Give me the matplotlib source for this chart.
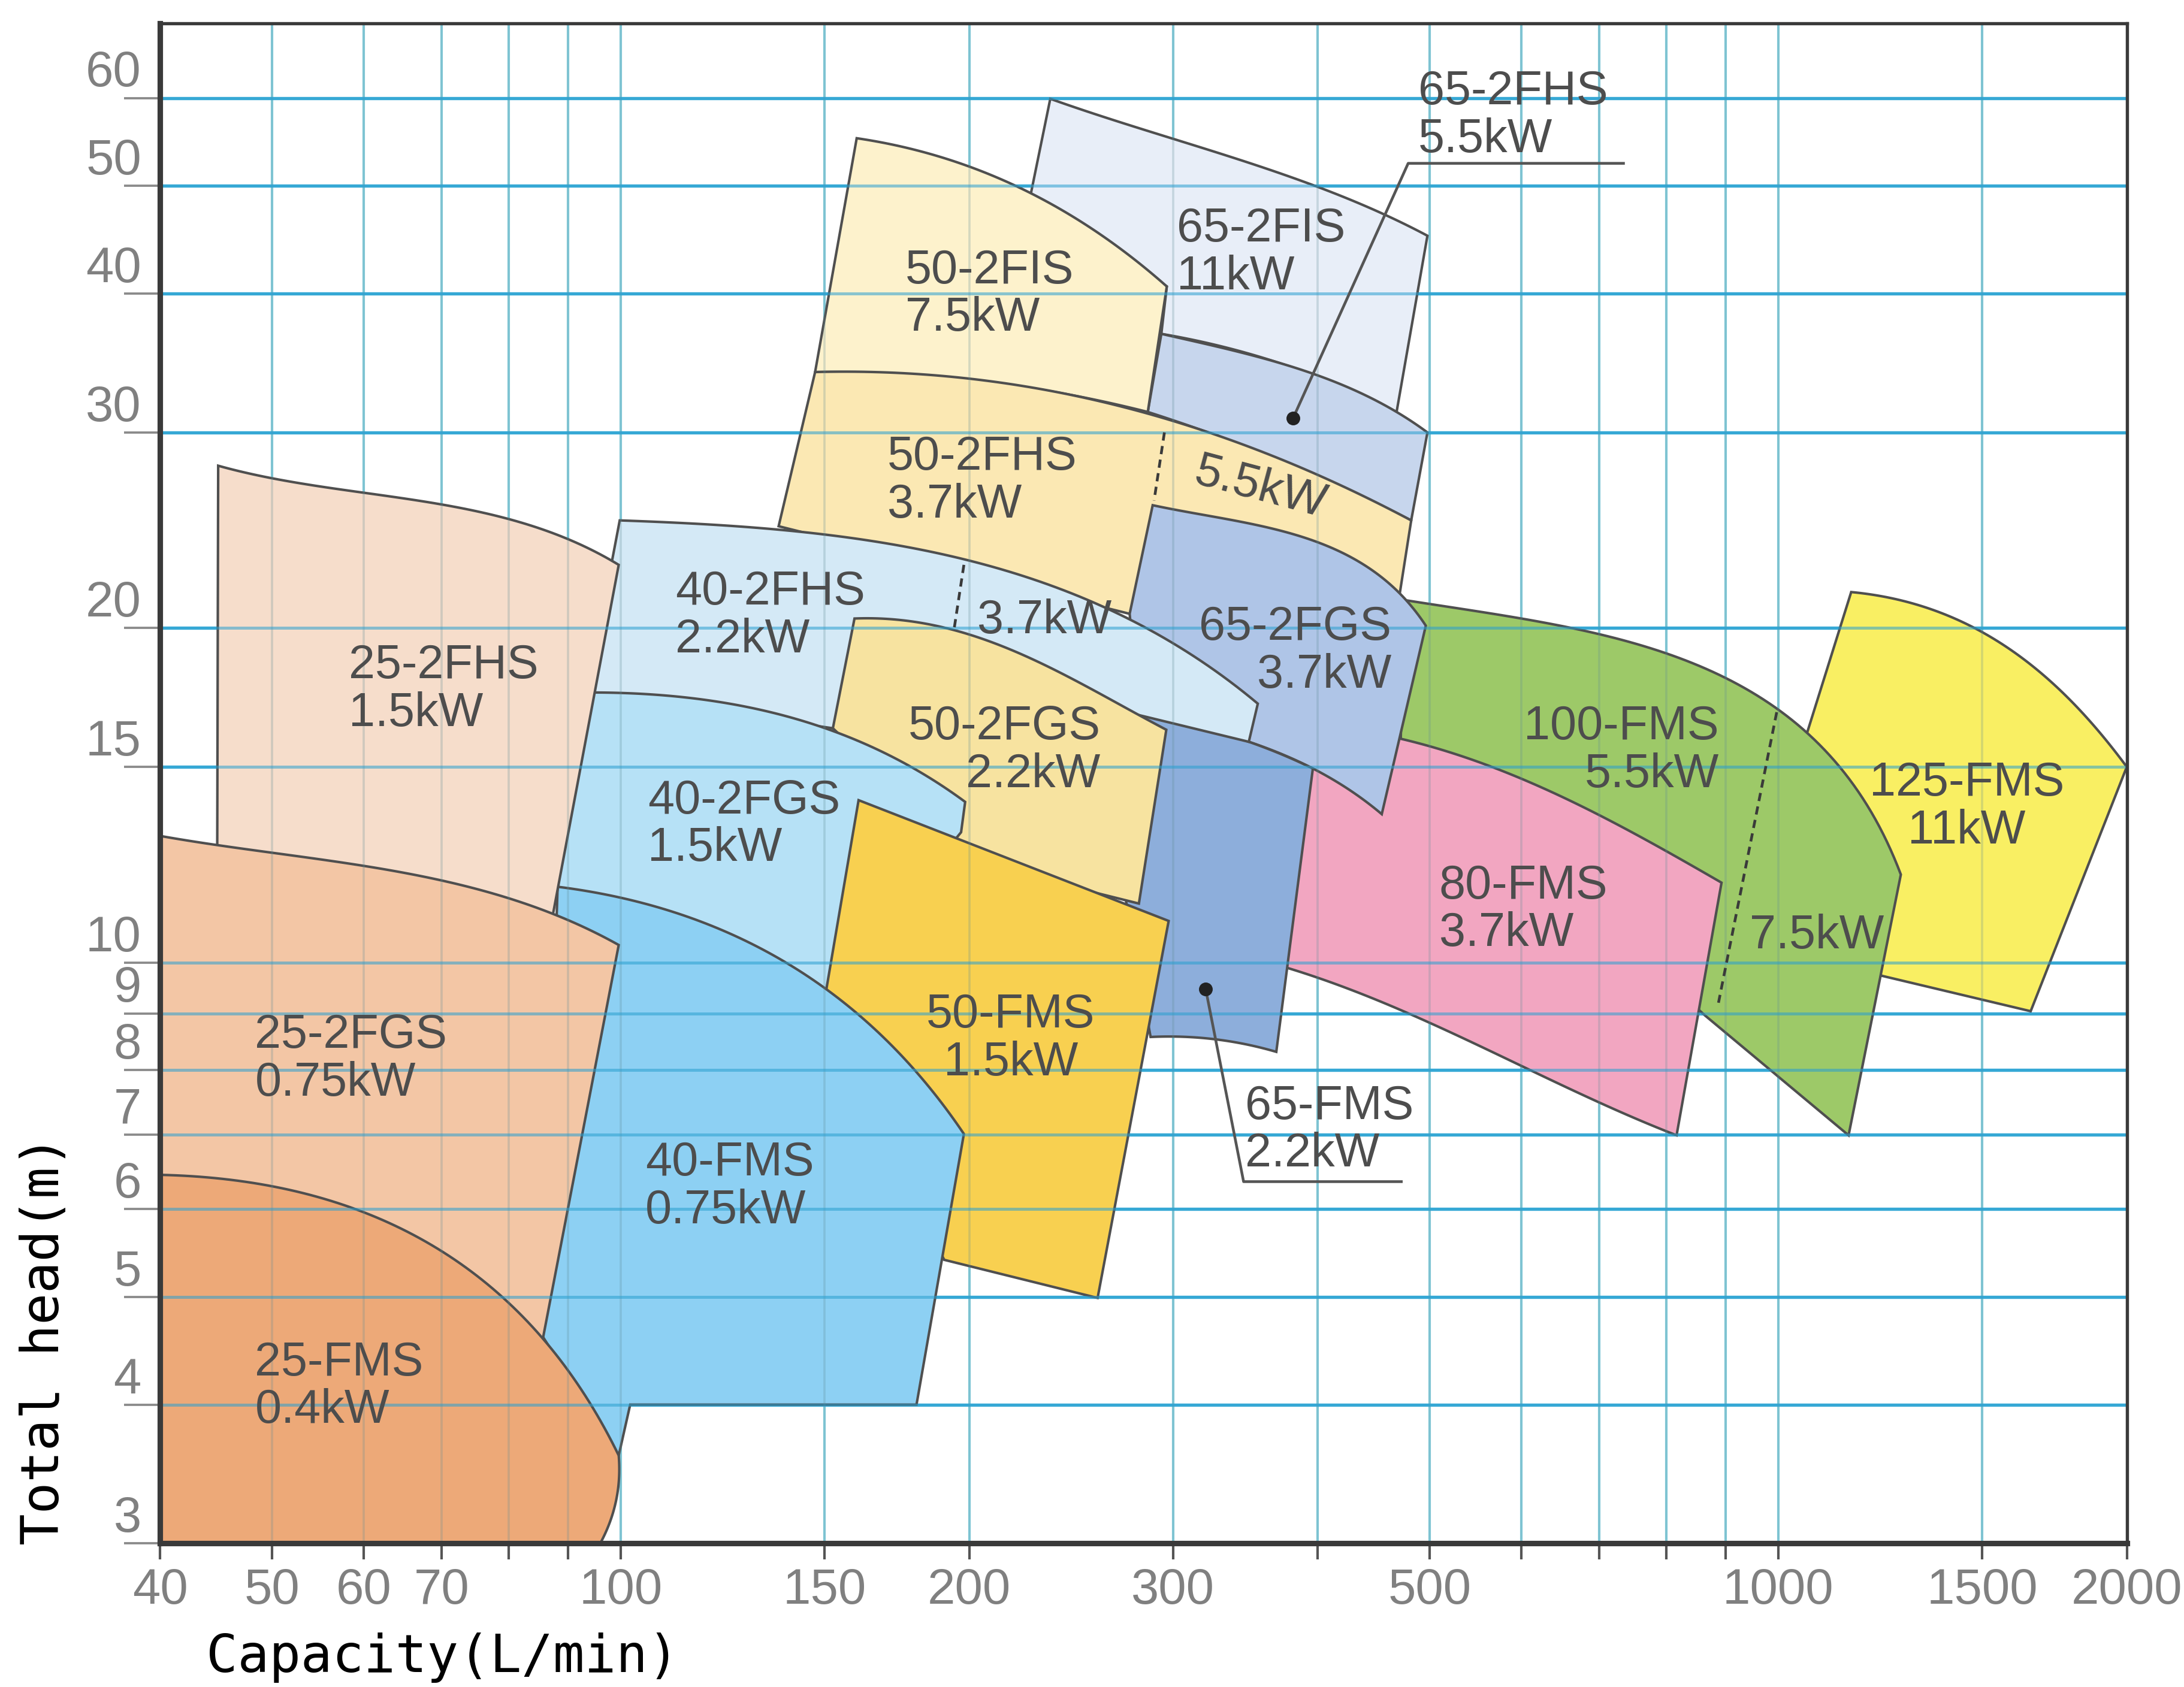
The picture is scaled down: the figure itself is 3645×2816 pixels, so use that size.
"""
Pump selection chart (capacity vs total head), log-log.
"""
import numpy as np
import matplotlib
matplotlib.use("Agg")
from matplotlib import pyplot as plt
from matplotlib.ticker import NullLocator

plt.rcParams["font.family"] = ["Liberation Sans", "DejaVu Sans"]

# axis ticks and grid (capacity L/min, head m)
x_ticks = [40, 50, 60, 70, 80, 90, 100, 150, 200, 300, 400, 500, 600, 700, 800, 900, 1000, 1500, 2000]
x_labels = ["40", "50", "60", "70", "", "", "100", "150", "200", "300", "", "500",
            "", "", "", "", "1000", "1500", "2000"]
y_ticks = [3, 4, 5, 6, 7, 8, 9, 10, 15, 20, 30, 40, 50, 60]
x_grid = [50, 60, 70, 80, 90, 100, 150, 200, 300, 400, 500, 600, 700, 800, 900, 1000, 1500]
y_grid = [4, 5, 6, 7, 8, 9, 10, 15, 20, 30, 40, 50, 60]

# operating ranges: ("c", curve points) or ("l", straight polyline), (L/min, m)
fms_125 = [("c", [(1156, 21.55), (1464, 20.1), (1765, 17.45), (2000, 15.0)]),
           ("l", [(2000, 15.0), (1652, 9.04), (1228, 9.73), (1009, 13.0), (1053, 15.8), (1156, 21.55)])]
fms_100 = [("c", [(474.8, 21.2), (678.5, 19.9), (912.8, 17.9), (1076, 15.85), (1276, 12.0)]),
           ("l", [(1276, 12.0), (1150, 6.99), (864.4, 8.96), (471.9, 15.9), (474.8, 21.2)])]
fms_80 = [("c", [(388.0, 16.4), (471.9, 15.9), (678.5, 13.8), (893.2, 11.8)]),
          ("l", [(893.2, 11.8), (816.8, 6.99)]),
          ("c", [(816.8, 6.99), (646.0, 7.78), (502.9, 8.8), (375.3, 9.9)]),
          ("l", [(375.3, 9.9), (388.0, 16.4)])]
fis_65 = [("c", [(235.0, 59.9), (330.9, 53.4), (412.4, 49.3), (497.6, 45.1)]),
          ("l", [(497.6, 45.1), (468.0, 31.3)]),
          ("c", [(468.0, 31.3), (368.9, 34.7), (293.1, 36.8)]),
          ("l", [(293.1, 36.8), (296.3, 40.6), (226.0, 49.1), (235.0, 59.9)])]
fhs_65 = [("c", [(293.1, 36.8), (368.9, 34.7), (468.0, 31.3), (497.6, 30.0)]),
          ("l", [(497.6, 30.0), (481.8, 25.0)]),
          ("c", [(481.8, 25.0), (368.9, 28.4), (285.3, 31.3)]),
          ("l", [(285.3, 31.3), (293.1, 36.8)])]
fis_50 = [("c", [(159.9, 55.2), (224.8, 49.4), (265.4, 44.5), (296.3, 40.6)]),
          ("l", [(296.3, 40.6), (285.3, 31.3)]),
          ("c", [(285.3, 31.3), (212.9, 33.2), (147.2, 34.0)]),
          ("l", [(147.2, 34.0), (159.9, 55.2)])]
fhs_50 = [("c", [(147.2, 34.0), (212.9, 33.2), (285.3, 31.3), (368.9, 28.4), (481.8, 25.0)]),
          ("l", [(481.8, 25.0), (471.0, 21.5), (275.2, 20.6), (136.9, 24.7), (147.2, 34.0)])]
fgs_65 = [("c", [(288.1, 25.8), (352.1, 24.8), (422.5, 23.3), (471.0, 21.5), (496.0, 20.1)]),
          ("l", [(496.0, 20.1), (454.4, 13.6)]),
          ("c", [(454.4, 13.6), (396.2, 14.95), (348.8, 15.8), (280.3, 16.7)]),
          ("l", [(280.3, 16.7), (275.2, 20.6), (288.1, 25.8)])]
fms_65 = [("c", [(280.3, 16.7), (348.8, 15.8), (396.2, 14.95)]),
          ("l", [(396.2, 14.95), (368.4, 8.31)]),
          ("c", [(368.4, 8.31), (325.9, 8.53), (286.9, 8.57)]),
          ("l", [(286.9, 8.57), (266.9, 13.0), (280.3, 16.7)])]
fhs_40 = [("c", [(99.8, 25.0), (138.4, 24.6), (199.0, 22.9), (275.2, 20.4), (321.4, 18.6), (355.1, 17.1)]),
          ("l", [(355.1, 17.1), (348.8, 15.8), (280.3, 16.7), (152.5, 16.25), (93.5, 17.5), (99.8, 25.0)])]
fgs_50 = [("c", [(159.2, 20.4), (194.6, 19.9), (244.3, 18.05), (280.3, 16.7), (296.0, 16.2)]),
          ("l", [(296.0, 16.2), (280.3, 11.3), (202.3, 12.3), (152.5, 16.25), (159.2, 20.4)])]
fgs_40 = [("c", [(93.5, 17.5), (122.5, 17.1), (152.5, 16.25), (176.4, 15.0), (198.4, 13.95)]),
          ("l", [(198.4, 13.95), (196.8, 13.1), (149.2, 9.22), (88.2, 11.7), (93.5, 17.5)])]
fms_50 = [("l", [(160.5, 14.0), (297.4, 10.9), (258.2, 4.99), (190.3, 5.40), (149.2, 8.96), (160.5, 14.0)])]
fms_40 = [("c", [(88.2, 11.7), (121.2, 10.74), (149.2, 9.52), (171.3, 8.43), (197.9, 7.01)]),
          ("l", [(197.9, 7.01), (180.1, 4.0), (101.9, 4.0), (99.6, 3.6), (85.7, 4.6), (88.2, 11.7)])]
fhs_25 = [("c", [(44.9, 28.0), (66.0, 26.1), (86.9, 24.4), (99.6, 22.8)]),
          ("l", [(99.6, 22.8), (87.4, 11.06), (44.8, 11.0), (44.9, 28.0)])]
fgs_25 = [("c", [(40, 13.0), (60.5, 12.2), (87.4, 11.06), (99.6, 10.37)]),
          ("l", [(99.6, 10.37), (85.7, 4.6), (40, 4.6), (40, 13.0)])]
fms_25 = [("c", [(40, 6.44), (48.2, 6.33), (59.3, 6.0), (72.2, 5.36), (85.7, 4.6), (99.6, 3.6)]),
          ("c", [(99.6, 3.6), (99.2, 3.3), (96.0, 3.0)]),
          ("l", [(96.0, 3.0), (40, 3.0), (40, 6.44)])]

# back to front
regions = [fms_125, fms_100, fms_80, fis_65, fhs_65, fis_50, fhs_50, fgs_65, fms_65,
           fhs_40, fgs_50, fgs_40, fms_50, fms_40, fhs_25, fgs_25, fms_25]
region_colors = ["#F9EF63", "#9DC968", "#F2A6C1", "#E8EEF8", "#C7D6ED", "#FDF2CC", "#FBE8B3",
                 "#AFC5E7", "#8DAEDB", "#D4E9F6", "#F7E3A0", "#B6E1F6", "#F8D050", "#8DD0F3",
                 "#F6DDCB", "#F3C6A5", "#EDA978"]

# model labels
label_text = ["65-2FHS\n5.5kW", "65-2FIS\n11kW", "50-2FIS\n7.5kW", "50-2FHS\n3.7kW", "40-2FHS\n2.2kW",
              "3.7kW", "65-2FGS\n3.7kW", "25-2FHS\n1.5kW", "50-2FGS\n2.2kW", "100-FMS\n5.5kW",
              "125-FMS\n11kW", "40-2FGS\n1.5kW", "80-FMS\n3.7kW", "7.5kW", "50-FMS\n1.5kW",
              "25-2FGS\n0.75kW", "65-FMS\n2.2kW", "40-FMS\n0.75kW", "25-FMS\n0.4kW"]
label_x = [488.4, 302.3, 176.2, 169.9, 111.5, 232.3, 463.3, 58.2, 259.7, 888.5,
           1455, 105.5, 509.2, 944, 217.2, 48.3, 346.4, 105.0, 48.3]
label_y = [57.8, 43.5, 39.9, 27.1, 20.5, 20.3, 19.05, 17.6, 15.5, 15.5,
           13.8, 13.3, 11.15, 10.56, 8.53, 8.18, 7.06, 6.28, 4.15]
label_ha = ["left", "left", "left", "left", "left", "center", "right", "left", "right", "right",
            "center", "left", "left", "left", "center", "left", "left", "left", "left"]

# extra marks
fhs50_split = [(294.9, 30.0), (288.9, 26.05)]
fhs40_split = [(197.9, 22.8), (194.1, 19.97)]
fms100_split = [(996.8, 16.8), (887.8, 9.2)]
fhs65_leader = [(380.9, 30.9), (478.9, 52.4), (734.9, 52.4)]
fms65_leader = [(320.1, 9.47), (345.2, 6.35), (472.4, 6.35)]


def arc(pts, n=80):
    """Smooth bow through the end points, bulge fitted to the inner points (log space)."""
    p = np.log10(np.asarray(pts, float))
    a, b = p[0], p[-1]
    d = b - a
    L = np.hypot(*d)
    u = d / L
    nrm = np.array([-u[1], u[0]])
    q = p[1:-1] - a
    s = q @ u / L
    h = q @ nrm
    if len(q) == 1:
        A = (s * (1 - s))[:, None]
    else:
        A = np.column_stack([s * (1 - s), s * s * (1 - s)])
    coef = np.linalg.lstsq(A, h, rcond=None)[0]
    t = np.linspace(0, 1, n)
    basis = [t * (1 - t), t * t * (1 - t)][:len(coef)]
    off = sum(c * bb for c, bb in zip(coef, basis))
    return a + np.outer(t, d) + np.outer(off, nrm)


def outline(segments):
    parts = [arc(pts) if kind == "c" else np.log10(np.asarray(pts, float))
             for kind, pts in segments]
    xy = 10 ** np.vstack(parts)
    return xy[:, 0], xy[:, 1]


fig = plt.figure(figsize=(12.15, 9.3867), dpi=300)
ax = fig.add_axes([0.0733, 0.0851, 0.9005, 0.9009])
ax.set_xscale("log")
ax.set_yscale("log")
ax.set_xlim(40, 2000)
ax.set_ylim(3, 70)

# grid below the fills
for gx in x_grid:
    ax.axvline(gx, color="#8AD6E6", lw=1.0, zorder=0.5)
for gy in y_grid:
    ax.axhline(gy, color="#45B3DC", lw=1.3, zorder=0.5)

for i, (seg, col) in enumerate(zip(regions, region_colors)):
    x, y = outline(seg)
    ax.fill(x, y, facecolor=col, edgecolor="#4f4f4f", linewidth=1.0,
            joinstyle="miter", zorder=2 + i * 0.1)

# grid showing through the fills
for gx in x_grid:
    ax.axvline(gx, color="#5E8C96", lw=0.9, alpha=0.25, zorder=5)
for gy in y_grid:
    ax.axhline(gy, color="#2A9FD0", lw=1.2, alpha=0.55, zorder=5)

for line in (fhs50_split, fhs40_split, fms100_split):
    xs, ys = zip(*line)
    ax.plot(xs, ys, color="#3a3a3a", lw=1.1, ls=(0, (3, 2)), zorder=6)

for line in (fhs65_leader, fms65_leader):
    xs, ys = zip(*line)
    ax.plot(xs, ys, color="#555555", lw=1.1, zorder=6)
    ax.plot(xs[0], ys[0], "o", ms=4.5, color="#222222", zorder=7)

for txt, lx, ly, ha in zip(label_text, label_x, label_y, label_ha):
    ax.text(lx, ly, txt, ha=ha, va="center", multialignment=ha, fontsize=19,
            color="#4d4d4d", linespacing=1.08, zorder=8)
ax.text(357.1, 26.7, "5.5kW", ha="center", va="center", rotation=-15, fontsize=19,
        color="#4d4d4d", zorder=8, rotation_mode="anchor")

# axes and ticks
ax.xaxis.set_minor_locator(NullLocator())
ax.yaxis.set_minor_locator(NullLocator())
ax.set_xticks(x_ticks)
ax.set_xticklabels(x_labels)
ax.tick_params(axis="x", direction="out", length=6.5, width=1.0, color="#555555",
               labelsize=20, labelcolor="#808080", pad=3)
ax.set_yticks(y_ticks)
ax.set_yticklabels([])
ax.tick_params(axis="y", direction="out", length=14.5, width=0.9, color="#8a8a8a")
for v in y_ticks:
    ax.annotate(str(v), xy=(0, v), xycoords=("axes fraction", "data"), xytext=(-7.5, 0.5),
                textcoords="offset points", ha="right", va="bottom", fontsize=20,
                color="#808080", annotation_clip=False)

for side in ("left", "bottom"):
    ax.spines[side].set_linewidth(2.2)
    ax.spines[side].set_color("#3a3a3a")
for side in ("top", "right"):
    ax.spines[side].set_linewidth(1.3)
    ax.spines[side].set_color("#3a3a3a")
for sp in ax.spines.values():
    sp.set_zorder(12)

fig.text(0.0944, 0.0173, "Capacity(L/min)", ha="left", va="center", fontsize=21,
         family="DejaVu Sans Mono", color="black")
fig.text(0.0204, 0.2056, "Total head(m)", ha="center", va="center", rotation=90,
         fontsize=21, family="DejaVu Sans Mono", color="black")

plt.savefig("out.png", dpi=300)
